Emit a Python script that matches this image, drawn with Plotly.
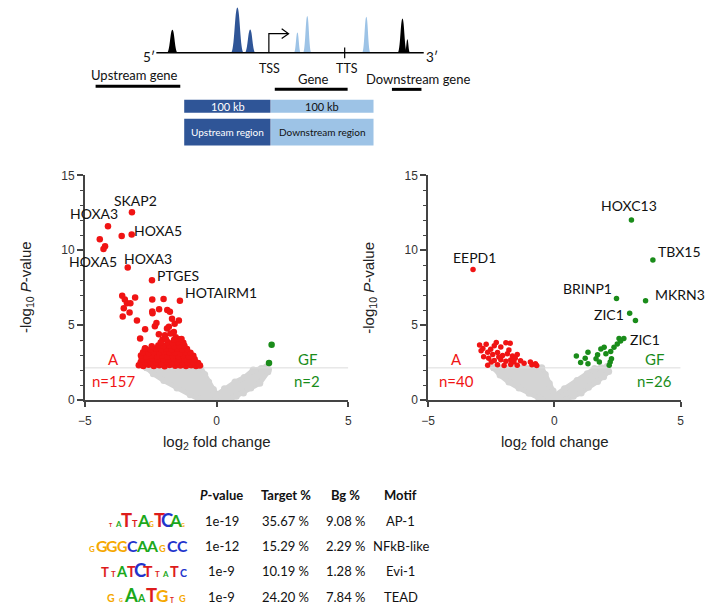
import plotly.graph_objects as go

W, H = 709, 611

# ---------------- Panel b : left volcano ----------------
left_red_x = [-3.21, -4.12, -4.43, -4.23, -4.29, -3.6, -3.22, -3.37, -2.45, -1.39,
              -3.58, -3.48, -3.4, -3.27, -3.09, -3.52, -3.3, -3.56, -3.02, -2.44, -2.01, -2.44, -2.43, -2.18,
              -1.87, -1.77, -1.69, -1.43, -2.71, -2.34, -1.88, -1.81, -1.59, -2.9, -2.19, -1.96, -1.41, -2.71,
              -2.28, -1.62, -1.75, -2.05, -1.55,
              -2.95, -2.78, -2.58, -2.38, -2.17, -1.97, -1.78, -1.57, -1.37, -1.16, -0.96, -0.78, -0.63,
              -2.88, -2.68, -2.49, -2.29, -2.08, -1.9, -1.69, -1.49, -1.28, -1.1, -0.89, -0.7,
              -2.84, -2.63, -2.43, -2.22, -2.02, -1.83, -1.61, -1.42, -1.21, -1.02, -0.83,
              -2.87, -2.65, -2.46, -2.25, -2.05, -1.86, -1.66, -1.45, -1.26, -1.05, -0.88,
              -2.79, -2.57, -2.38, -2.17, -1.98, -1.77, -1.58, -1.37, -1.18, -0.99,
              -2.72, -2.5, -2.3, -2.1, -1.9, -1.7, -1.5, -1.3, -1.12,
              -2.46, -2.21, -2.0, -1.8, -1.6, -1.41, -1.22,
              -2.12, -1.86, -1.66, -1.46, -1.26,
              -1.92, -1.61, -1.33]
left_red_y = [12.54, 11.61, 10.74, 10.26, 10.09, 10.96, 11.06, 8.85, 8.0, 6.63,
              6.96, 6.72, 6.46, 6.46, 6.85, 6.13, 5.85, 5.58, 5.32, 6.72, 6.74, 5.91, 5.8, 6.07,
              6.02, 5.89, 5.43, 5.32, 4.72, 4.93, 4.78, 4.9, 5.1, 4.11, 4.39, 4.33, 4.06, 3.46,
              5.15, 4.55, 4.45, 4.05, 4.2,
              2.32, 2.28, 2.35, 2.27, 2.33, 2.26, 2.34, 2.29, 2.31, 2.27, 2.33, 2.28, 2.3,
              2.52, 2.48, 2.55, 2.5, 2.46, 2.56, 2.49, 2.53, 2.47, 2.55, 2.5, 2.47,
              2.74, 2.7, 2.77, 2.71, 2.75, 2.69, 2.76, 2.71, 2.74, 2.69, 2.73,
              2.97, 2.92, 2.99, 2.94, 2.98, 2.91, 2.96, 2.93, 2.99, 2.92, 2.96,
              3.2, 3.15, 3.21, 3.16, 3.22, 3.17, 3.2, 3.14, 3.21, 3.16,
              3.42, 3.38, 3.44, 3.37, 3.43, 3.39, 3.45, 3.38, 3.41,
              3.6, 3.65, 3.61, 3.66, 3.59, 3.64, 3.62,
              3.84, 3.88, 3.83, 3.87, 3.82,
              4.06, 4.03, 4.08]
left_green_x = [2.09, 1.99]
left_green_y = [3.69, 2.48]
# outline of the non-significant (grey) cloud
left_gray_x = [-2.65, -1.6, -0.6, -0.45, -0.3, -0.12, 0.02, 0.3, 0.7, 1.05, 1.39, 1.7, 1.89, 1.97,
               1.95, 1.64, 1.3, 1.02, 0.75, 0.52, 0.2, -0.3, -0.65, -1.0, -1.5, -2.0, -2.4]
left_gray_y = [2.15, 2.15, 2.15, 1.7, 1.2, 0.7, 0.37, 0.75, 1.2, 1.5, 2.0, 2.1, 2.2, 2.05,
               1.89, 1.13, 0.8, 0.48, 0.25, 0.05, 0.0, 0.0, 0.05, 0.35, 0.8, 1.3, 1.75]
left_labels = ["SKAP2", "HOXA3", "HOXA5", "HOXA5", "HOXA3", "PTGES", "HOTAIRM1"]
left_label_x = [-3.09, -4.64, -2.22, -4.70, -2.59, -1.47, 0.15]
left_label_y = [13.31, 12.43, 11.29, 9.28, 9.46, 8.30, 7.15]
left_counts = ["n=157", "n=2"]

# ---------------- Panel b : right volcano ----------------
right_red_x = [-3.22,
               -2.96, -2.7, -2.38, -2.12, -1.92, -1.75, -2.83, -2.52,
               -2.64, -2.44, -2.25, -2.05, -1.86, -1.66, -1.47, -2.9,
               -2.38, -2.12, -1.92, -1.73, -1.6, -1.34, -2.6, -2.8,
               -2.64, -2.25, -1.99, -1.73, -1.47, -0.89, -0.7, -0.95, -0.75,
               -2.5, -1.2, -1.55, -2.2, -1.8, -2.3]
right_red_y = [8.72,
               3.68, 3.72, 3.62, 3.55, 3.82, 3.8, 3.45, 3.4,
               3.2, 3.05, 3.18, 2.98, 3.1, 2.95, 3.05, 3.3,
               2.65, 2.7, 2.6, 2.68, 2.55, 2.62, 2.8, 2.9,
               2.32, 2.35, 2.3, 2.38, 2.33, 2.35, 2.3, 2.55, 2.42,
               2.55, 2.45, 2.8, 2.88, 3.35, 3.85]
right_green_x = [3.05, 3.90, 2.46, 3.61, 2.98, 3.21, 2.56, 2.75,
                 0.87, 1.04, 1.22, 1.33, 1.65, 1.71, 1.78, 1.97, 2.04, 2.21, 2.26, 2.23, 2.36,
                 2.49, 2.62, 1.33, 2.17, 1.84]
right_green_y = [12.02, 9.35, 6.78, 6.63, 5.8, 5.32, 4.11, 4.11,
                 2.95, 2.5, 2.8, 2.43, 2.76, 3.02, 2.54, 3.52, 3.09, 2.54, 2.76, 3.24, 3.52,
                 3.74, 3.95, 3.2, 2.32, 3.41]
right_gray_x = [-2.4, -1.4, -0.5, -0.36, -0.2, -0.05, 0.03, 0.4, 0.9, 1.3, 1.59, 1.85, 2.1, 2.15,
                1.95, 1.71, 1.35, 1.06, 0.75, 0.45, 0.0, -0.5, -0.62, -1.0, -1.4, -1.8, -2.15]
right_gray_y = [2.15, 2.15, 2.15, 1.7, 1.1, 0.6, 0.3, 0.75, 1.3, 1.75, 2.1, 2.15, 2.25, 1.9,
                1.55, 1.24, 0.85, 0.48, 0.25, 0.03, 0.0, 0.02, 0.15, 0.45, 0.8, 1.2, 1.67]
right_labels = ["HOXC13", "TBX15", "EEPD1", "BRINP1", "MKRN3", "ZIC1", "ZIC1"]
right_label_x = [2.95, 4.96, -3.18, 1.33, 4.96, 2.17, 3.57]
right_label_y = [13.02, 9.93, 9.50, 7.48, 7.06, 5.69, 4.06]
right_counts = ["n=40", "n=26"]

threshold = 2.15
y_ticks = [0, 5, 10, 15]
x_ticks = [-5, 0, 5]

# ---------------- Panel c : motif table ----------------
col_headers = ["<b><i>P</i>-value</b>", "<b>Target %</b>", "<b>Bg %</b>", "<b>Motif</b>"]
p_values = ["1e-19", "1e-12", "1e-9", "1e-9"]
target_pct = ["35.67 %", "15.29 %", "10.19 %", "24.20 %"]
bg_pct = ["9.08 %", "2.29 %", "1.28 %", "7.84 %"]
motif_names = ["AP-1", "NFkB-like", "Evi-1", "TEAD"]
logo_letters = [["T", "A", "T", "T", "A", "G", "T", "C", "A", "G"],
                ["G", "G", "G", "G", "C", "A", "A", "G", "C", "C"],
                ["T", "T", "A", "T", "C", "T", "T", "A", "T", "C"],
                ["G", "G", "A", "A", "T", "G", "T", "G"]]
logo_heights = [[4, 6, 14, 7, 13, 5, 14, 14, 13, 4],
                [6, 12, 12, 11, 12, 12, 12, 7, 12, 12],
                [10, 6, 11, 11, 14, 12, 6, 6, 11, 8],
                [8, 4, 14, 8, 14, 13, 5, 7]]

# ---------------- Panel a : schematic ----------------
peak_x = [168, 234, 247, 295, 305, 365, 401.7, 406.7]
peak_hw = [5.5, 6.5, 5.5, 3.5, 4.2, 4.2, 4.8, 2.6]
peak_top = [23.3, 0.5, 23.0, 26.0, 9.3, 10.0, 11.7, 33.0]

DARK = "#2F5597"
LIGHT = "#9DC3E6"
RED = "#F01414"
GREEN = "#1A8C1A"
GRAY = "#D4D4D4"
peak_col = ["black", DARK, DARK, LIGHT, LIGHT, LIGHT, "black", "black"]
LETTER_COL = {"A": "#1BA81B", "C": "#2233CC", "G": "#F5A800", "T": "#DD1C1C"}

NARROW = "Lato, Liberation Sans"
AXF = "Liberation Sans, Arial"
LBL = "Lato, Liberation Sans"

fig = go.Figure()


def add_volcano(xa, ya, gx, gy, rx, ry, grx, gry, msize):
    fig.add_trace(go.Scatter(x=gx + gx[:1], y=gy + gy[:1], mode="lines+markers", fill="toself",
                             fillcolor=GRAY, line=dict(color=GRAY, width=5),
                             marker=dict(size=7, color=GRAY), xaxis=xa, yaxis=ya, hoverinfo="skip"))
    fig.add_trace(go.Scatter(x=[x_ticks[0], x_ticks[-1]], y=[threshold, threshold], mode="lines",
                             line=dict(color="#DCDCDC", width=1), xaxis=xa, yaxis=ya, hoverinfo="skip"))
    fig.add_trace(go.Scatter(x=rx, y=ry, mode="markers", marker=dict(size=msize, color=RED),
                             xaxis=xa, yaxis=ya))
    fig.add_trace(go.Scatter(x=grx, y=gry, mode="markers", marker=dict(size=msize, color=GREEN),
                             xaxis=xa, yaxis=ya))


add_volcano("x", "y", left_gray_x, left_gray_y, left_red_x, left_red_y, left_green_x, left_green_y, 6.5)
add_volcano("x2", "y2", right_gray_x, right_gray_y, right_red_x, right_red_y, right_green_x, right_green_y, 5.5)
fig.add_trace(go.Scatter(x=[], y=[], xaxis="x3", yaxis="y3", showlegend=False))

ann = []
for lab, lx, ly in zip(left_labels, left_label_x, left_label_y):
    ann.append(dict(x=lx, y=ly, xref="x", yref="y", text=lab, showarrow=False,
                    font=dict(family=LBL, size=14, color="#111")))
for lab, lx, ly in zip(right_labels, right_label_x, right_label_y):
    ann.append(dict(x=lx, y=ly, xref="x2", yref="y2", text=lab, showarrow=False,
                    font=dict(family=LBL, size=14, color="#111")))
for xr, yr, cnt, ax_, gx_ in [("x", "y", left_counts, -3.9, 3.44), ("x2", "y2", right_counts, -3.86, 3.96)]:
    ann.append(dict(x=ax_, y=2.72, xref=xr, yref=yr, text="A", showarrow=False,
                    font=dict(family=LBL, size=15, color=RED)))
    ann.append(dict(x=ax_, y=1.3, xref=xr, yref=yr, text=cnt[0], showarrow=False,
                    font=dict(family=LBL, size=15, color=RED)))
    ann.append(dict(x=gx_, y=2.75, xref=xr, yref=yr, text="GF", showarrow=False,
                    font=dict(family=LBL, size=15, color=GREEN)))
    ann.append(dict(x=gx_, y=1.3, xref=xr, yref=yr, text=cnt[1], showarrow=False,
                    font=dict(family=LBL, size=15, color=GREEN)))


def px(x, y, text, size, family=NARROW, color="#111", xanchor="center", yanchor="middle", angle=0):
    ann.append(dict(x=x, y=y, xref="x3", yref="y3", text=text, showarrow=False, textangle=angle,
                    xanchor=xanchor, yanchor=yanchor, font=dict(family=family, size=size, color=color)))


# axis titles
for cx in (213, 556.5):
    px(cx, 446, "log<sub>2</sub> fold change", 15, family=AXF, color="#222")
px(20, 287, "-log<sub>10</sub> <i>P</i>-value", 15, family=AXF, color="#222", angle=-90)
px(368, 287, "-log<sub>10</sub> <i>P</i>-value", 15, family=AXF, color="#222", angle=-90)

# panel letters
px(-1, 14.5, "<b>a</b>", 19, xanchor="left")
px(-1, 155, "<b>b</b>", 19, xanchor="left")
px(-1, 492.6, "<b>c</b>", 19, xanchor="left")

# panel a texts
px(144, 51, "5′", 13.5)
px(432, 51, "3′", 13.5)
px(267, 63, "TSS", 12.5)
px(345, 63, "TTS", 12.5)
px(130, 70, "Upstream gene", 13)
px(311, 73.3, "Gene", 13)
px(417.5, 73.3, "Downstream gene", 13)
px(224, 101.7, "100 kb", 11, color="white")
px(320, 101.7, "100 kb", 11, color="#111")
px(224, 128, "Upstream region", 10, color="white")
px(320, 128, "Downstream region", 10, color="#111")

# panel c table
col_x = [218, 283, 344, 400]
row_y = [526, 551.7, 577.7, 603.7]
for cx, h in zip(col_x, col_headers):
    px(cx, 499, h, 13)
for i, ry in enumerate(row_y):
    px(col_x[0], ry, p_values[i], 13)
    px(col_x[1], ry, target_pct[i], 13)
    px(col_x[2], ry, bg_pct[i], 13)
    px(col_x[3], ry, motif_names[i], 13)

# sequence logos
logo_right = 183.3
logo_w = [8.2, 10.2, 8.8, 10.4]
logo_base = [531.7, 557.5, 583.0, 609.0]
for letters, heights, w, base in zip(logo_letters, logo_heights, logo_w, logo_base):
    n = len(letters)
    for i, (L, h) in enumerate(zip(letters, heights)):
        cx = logo_right - (n - i - 0.5) * w
        px(cx, base - h / 2.0, "<b>%s</b>" % L, max(h * 0.95 / 0.72, 5), family="Lato",
           color=LETTER_COL[L])

# panel a shapes
shapes = []
base_y = 46.7
for x0, hw, top, col in zip(peak_x, peak_hw, peak_top, peak_col):
    path = ("M %.1f,%.1f C %.1f,%.1f %.1f,%.1f %.1f,%.1f C %.1f,%.1f %.1f,%.1f %.1f,%.1f Z" %
            (x0 - hw, base_y, x0 - 0.45 * hw, base_y, x0 - 0.4 * hw, top, x0, top,
             x0 + 0.4 * hw, top, x0 + 0.45 * hw, base_y, x0 + hw, base_y))
    shapes.append(dict(type="path", path=path, xref="x3", yref="y3", fillcolor=col,
                       line=dict(width=0)))


def line(x0, y0, x1, y1, w=1.5, col="black"):
    shapes.append(dict(type="line", x0=x0, y0=y0, x1=x1, y1=y1, xref="x3", yref="y3",
                       line=dict(color=col, width=w)))


def rect(x0, y0, x1, y1, col):
    shapes.append(dict(type="rect", x0=x0, y0=y0, x1=x1, y1=y1, xref="x3", yref="y3",
                       fillcolor=col, line=dict(width=0), layer="below"))


line(151.7, base_y, 423.3, base_y, 1.5)
line(343, 41.5, 343, 52.5, 1.2)
shapes.append(dict(type="path", path="M 266,46.7 L 266,27.3 L 285.5,27.3", xref="x3", yref="y3",
                   line=dict(color="black", width=1.2)))
shapes.append(dict(type="path", path="M 279,22.3 L 286,27.3 L 279,32.3", xref="x3", yref="y3",
                   line=dict(color="black", width=1.2)))
line(90, 81, 176, 81, 3)
line(272, 84.3, 346, 84.3, 3)
line(391, 84.3, 421, 84.3, 3)
rect(180, 95, 267.7, 108.3, DARK)
rect(268.2, 95, 372.3, 108.3, LIGHT)
rect(180, 114.3, 267.7, 141.7, DARK)
rect(268.2, 114.3, 372.3, 141.7, LIGHT)

axis_common = dict(range=[-5, 5], showgrid=False, zeroline=False, showline=True, linecolor="#444",
                   linewidth=1.5, ticks="outside", ticklen=5, tickwidth=1.5, tickcolor="#444",
                   tickvals=x_ticks, tickfont=dict(family=AXF, size=12, color="#333"),
                   ticklabelstandoff=4, fixedrange=True)
yaxis_common = dict(range=[0, 15], showgrid=False, zeroline=False, showline=True, linecolor="#444",
                    linewidth=1.5, ticks="outside", ticklen=6, tickwidth=1.5, tickcolor="#444",
                    tickvals=y_ticks, tickfont=dict(family=AXF, size=12, color="#333"),
                    minor=dict(dtick=1, ticks="outside", ticklen=3.5, tickcolor="#444", tickwidth=1),
                    fixedrange=True)
ydom = [1 - 402.3 / H, 1 - 172.3 / H]

fig.update_layout(
    width=W, height=H, margin=dict(l=0, r=0, t=0, b=0), showlegend=False,
    paper_bgcolor="white", plot_bgcolor="rgba(0,0,0,0)",
    xaxis=dict(domain=[79 / W, 346.7 / W], anchor="y", **axis_common),
    yaxis=dict(domain=ydom, anchor="x", **yaxis_common),
    xaxis2=dict(domain=[427.7 / W, 684.3 / W], anchor="y2", **axis_common),
    yaxis2=dict(domain=ydom, anchor="x2", **yaxis_common),
    xaxis3=dict(domain=[0, 1], range=[0, W], visible=False, anchor="y3", fixedrange=True),
    yaxis3=dict(domain=[0, 1], range=[H, 0], visible=False, anchor="x3", fixedrange=True),
    annotations=ann, shapes=shapes,
)

fig.write_html("out.html", config={"displayModeBar": False},
               post_script="document.body.style.margin='0px';")
